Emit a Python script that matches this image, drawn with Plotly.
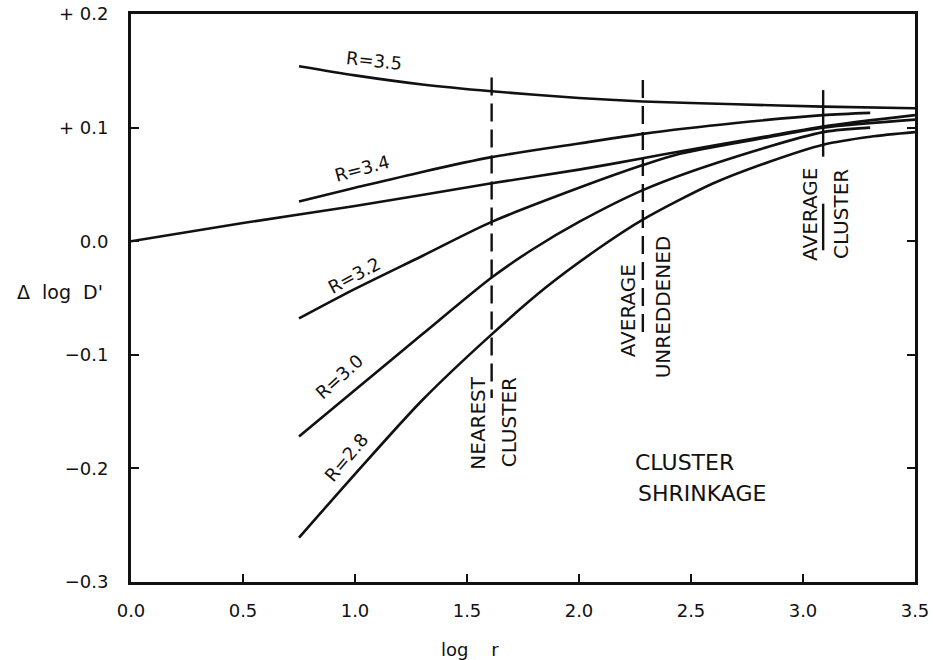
import plotly.graph_objects as go

# ---- data ----
x_r35 = [0.75, 1.0, 1.3, 1.61, 2.0, 2.285, 2.7, 3.09, 3.5]
y_r35 = [0.154, 0.146, 0.138, 0.132, 0.126, 0.123, 0.1205, 0.1185, 0.117]

x_r34 = [0.75, 1.0, 1.3, 1.61, 2.0, 2.285, 2.7, 3.09, 3.3]
y_r34 = [0.035, 0.047, 0.061, 0.074, 0.086, 0.0945, 0.104, 0.111, 0.113]

x_ref = [0.0, 0.5, 1.0, 1.61, 2.0, 2.285, 2.45, 2.8, 3.09, 3.5]
y_ref = [0.0, 0.016, 0.031, 0.051, 0.063, 0.073, 0.079, 0.091, 0.101, 0.111]

x_r32 = [0.75, 1.0, 1.3, 1.61, 2.0, 2.285, 2.45, 2.8, 3.09, 3.5]
y_r32 = [-0.068, -0.042, -0.013, 0.017, 0.047, 0.067, 0.077, 0.090, 0.100, 0.107]

x_r30 = [0.75, 1.0, 1.3, 1.61, 1.79, 2.0, 2.285, 2.6, 3.09, 3.3]
y_r30 = [-0.172, -0.131, -0.082, -0.032, -0.0075, 0.017, 0.045, 0.068, 0.096, 0.100]

x_r28 = [0.75, 1.0, 1.3, 1.61, 1.85, 2.09, 2.285, 2.6, 2.85, 3.09, 3.3, 3.5]
y_r28 = [-0.261, -0.205, -0.140, -0.082, -0.041, -0.006, 0.019, 0.051, 0.070, 0.085, 0.092, 0.096]

marker_x = [1.61, 2.285, 3.09]
marker_top = [0.144, 0.142, 0.133]
marker_bottom = [-0.138, -0.087, 0.0744]

x_ticks = [0.0, 0.5, 1.0, 1.5, 2.0, 2.5, 3.0, 3.5]
x_ticktext = ["0.0", "0.5", "1.0", "1.5", "2.0", "2.5", "3.0", "3.5"]
y_ticks = [0.2, 0.1, 0.0, -0.1, -0.2, -0.3]
y_ticktext = ["+ 0.2", "+ 0.1", "0.0", "\u22120.1", "\u22120.2", "\u22120.3"]

FONT = "DejaVu Sans"
INK = "#111111"

fig = go.Figure()

for xs, ys in [(x_r35, y_r35), (x_r34, y_r34), (x_ref, y_ref),
               (x_r32, y_r32), (x_r30, y_r30), (x_r28, y_r28)]:
    fig.add_trace(go.Scatter(x=xs, y=ys, mode="lines",
                             line=dict(color=INK, width=2.6, shape="spline", smoothing=0.8),
                             showlegend=False, hoverinfo="skip"))

# vertical markers
for i, (mx, t, b) in enumerate(zip(marker_x, marker_top, marker_bottom)):
    fig.add_trace(go.Scatter(x=[mx, mx], y=[t, b], mode="lines",
                             line=dict(color=INK, width=2.4,
                                       dash="solid" if i == 2 else "18px,8px"),
                             showlegend=False, hoverinfo="skip"))
# fraction bar for AVERAGE / CLUSTER
fig.add_trace(go.Scatter(x=[marker_x[2], marker_x[2]], y=[0.033, -0.008], mode="lines",
                         line=dict(color=INK, width=2.4),
                         showlegend=False, hoverinfo="skip"))

ann = []
def add(text, x, y, size=17, angle=0, xref="x", yref="y", xanchor="center"):
    ann.append(dict(text=text, x=x, y=y, xref=xref, yref=yref, showarrow=False,
                    textangle=angle, xanchor=xanchor, yanchor="middle",
                    font=dict(family=FONT, size=size, color=INK)))

add("R=3.5", 1.083, 0.159, size=18, angle=6)
add("R=3.4", 1.03, 0.064, size=18, angle=-15)
add("R=3.2", 0.994, -0.030, size=18, angle=-28)
add("R=3.0", 0.93, -0.119, size=18, angle=-42)
add("R=2.8", 0.96, -0.190, size=18, angle=-50)

add("NEAREST", 1.548, -0.160, size=20, angle=-90)
add("CLUSTER", 1.685, -0.159, size=20, angle=-90)
add("AVERAGE", 2.218, -0.061, size=20, angle=-90)
add("UNREDDENED", 2.376, -0.058, size=20, angle=-90)
add("AVERAGE", 3.031, 0.024, size=20, angle=-90)
add("CLUSTER", 3.17, 0.024, size=20, angle=-90)

add("CLUSTER", 2.24, -0.195, size=22, xanchor="left")
add("SHRINKAGE", 2.255, -0.222, size=22, xanchor="left")

add("\u0394  log  D'", -0.033, 0.51, size=19, xref="paper", yref="paper", xanchor="right")
add("log    r", 0.432, -0.118, size=18, xref="paper", yref="paper")

fig.update_layout(
    width=933, height=660,
    margin=dict(l=131, r=18, t=14, b=78, autoexpand=False),
    plot_bgcolor="white", paper_bgcolor="white",
    annotations=ann,
    font=dict(family=FONT, color=INK),
)
fig.update_xaxes(range=[0, 3.5], tickvals=x_ticks, ticktext=x_ticktext,
                 showgrid=False, zeroline=False, showline=True, linewidth=3,
                 linecolor=INK, mirror=True, ticks="inside", ticklen=8, tickwidth=2,
                 tickcolor=INK, tickfont=dict(size=18, family=FONT, color=INK),
                 ticklabelstandoff=10, automargin=False)
fig.update_yaxes(range=[-0.3, 0.2], tickvals=y_ticks, ticktext=y_ticktext,
                 showgrid=False, zeroline=False, showline=True, linewidth=3,
                 linecolor=INK, mirror="ticks", ticks="inside", ticklen=8, tickwidth=2,
                 tickcolor=INK, tickfont=dict(size=18, family=FONT, color=INK),
                 ticklabelstandoff=16, automargin=False)

fig.write_html("out.html", config={"displayModeBar": False},
               post_script="document.body.style.margin='0px';")
